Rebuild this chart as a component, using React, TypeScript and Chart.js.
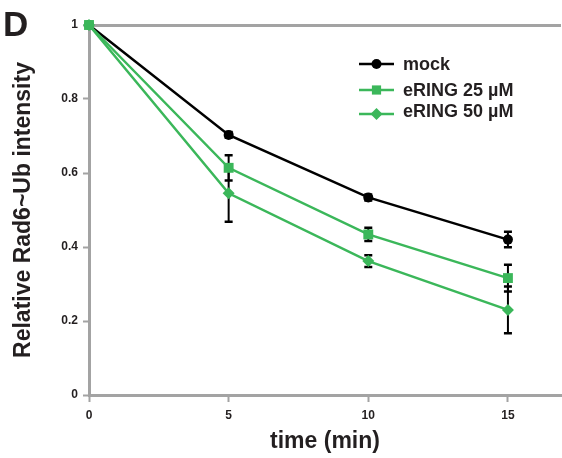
import React, { useEffect, useRef } from 'react';
import { Chart, registerables } from 'chart.js';

Chart.register(...registerables);

const timePoints = [0, 5, 10, 15];
const mockValues = [1, 0.703, 0.534, 0.42];
const mockErrors = [0, 0.008, 0.008, 0.021];
const ring25Values = [1, 0.614, 0.434, 0.316];
const ring25Errors = [0, 0.034, 0.018, 0.036];
const ring50Values = [1, 0.545, 0.362, 0.23];
const ring50Errors = [0, 0.077, 0.016, 0.063];
const seriesLabels = ['mock', 'eRING 25 µM', 'eRING 50 µM'];
const xTickValues = [0, 5, 10, 15];
const yTickValues = [0, 0.2, 0.4, 0.6, 0.8, 1];

const FONT = '"Liberation Sans", Arial, Helvetica, sans-serif';
const TEXT = '#231f20';
const AXIS = '#a3a3a3';
const GREEN = '#3bb75a';

function drawMarker(ctx: CanvasRenderingContext2D, style: string, x: number, y: number, r: number) {
  ctx.beginPath();
  if (style === 'circle') {
    ctx.arc(x, y, r, 0, Math.PI * 2);
  } else if (style === 'rect') {
    const s = r * Math.SQRT1_2;
    ctx.rect(x - s, y - s, 2 * s, 2 * s);
  } else {
    ctx.moveTo(x, y - r);
    ctx.lineTo(x + r, y);
    ctx.lineTo(x, y + r);
    ctx.lineTo(x - r, y);
    ctx.closePath();
  }
  ctx.fill();
}

const errorBarPlugin = {
  id: 'errorBars',
  beforeDatasetsDraw(chart: any) {
    const { ctx, scales } = chart;
    const xs = scales.x;
    const ys = scales.y;
    ctx.save();
    ctx.strokeStyle = '#000';
    chart.data.datasets.forEach((ds: any) => {
      ds.data.forEach((p: any, i: number) => {
        const e = ds.errors[i];
        if (!e) return;
        const px = xs.getPixelForValue(p.x);
        const top = ys.getPixelForValue(p.y + e);
        const bot = ys.getPixelForValue(p.y - e);
        ctx.lineWidth = 2;
        ctx.beginPath();
        ctx.moveTo(px, top);
        ctx.lineTo(px, bot);
        ctx.stroke();
        ctx.lineWidth = 2.5;
        ctx.beginPath();
        ctx.moveTo(px - 4, top);
        ctx.lineTo(px + 4, top);
        ctx.moveTo(px - 4, bot);
        ctx.lineTo(px + 4, bot);
        ctx.stroke();
      });
    });
    ctx.restore();
  },
};

const legendAndLabelPlugin = {
  id: 'customLegend',
  afterDraw(chart: any) {
    const { ctx } = chart;
    ctx.save();
    ctx.fillStyle = TEXT;
    ctx.font = `bold 35px ${FONT}`;
    ctx.textBaseline = 'alphabetic';
    ctx.textAlign = 'left';
    ctx.fillText('D', 3, 36);
    const markerY = [64, 90, 114];
    const baseY = [70, 96, 117];
    const x0 = 359;
    const x1 = 394;
    chart.data.datasets.forEach((ds: any, i: number) => {
      ctx.strokeStyle = ds.borderColor;
      ctx.fillStyle = ds.backgroundColor;
      ctx.lineWidth = 2.5;
      ctx.beginPath();
      ctx.moveTo(x0, markerY[i]);
      ctx.lineTo(x1, markerY[i]);
      ctx.stroke();
      drawMarker(ctx, ds.pointStyle, (x0 + x1) / 2, markerY[i], ds.pointStyle === 'rect' ? 6.5 : ds.pointRadius);
      ctx.fillStyle = TEXT;
      ctx.font = `bold 18px ${FONT}`;
      ctx.fillText(ds.label, 403, baseY[i]);
    });
    ctx.restore();
  },
};

export default function App() {
  const canvasRef = useRef<HTMLCanvasElement | null>(null);

  useEffect(() => {
    if (!canvasRef.current) return;
    const mk = (values: number[]) => timePoints.map((t, i) => ({ x: t, y: values[i] }));
    const chart = new Chart(canvasRef.current, {
      type: 'line',
      data: {
        datasets: [
          {
            label: seriesLabels[0],
            data: mk(mockValues),
            errors: mockErrors,
            borderColor: '#000',
            backgroundColor: '#000',
            pointStyle: 'circle',
            pointRadius: 5,
            borderWidth: 2.5,
            pointBorderWidth: 0,
            order: 3,
            clip: false,
          } as any,
          {
            label: seriesLabels[1],
            data: mk(ring25Values),
            errors: ring25Errors,
            borderColor: GREEN,
            backgroundColor: GREEN,
            pointStyle: 'rect',
            pointRadius: 7,
            borderWidth: 2.5,
            pointBorderWidth: 0,
            order: 1,
            clip: false,
          } as any,
          {
            label: seriesLabels[2],
            data: mk(ring50Values),
            errors: ring50Errors,
            borderColor: GREEN,
            backgroundColor: GREEN,
            pointStyle: 'rectRot',
            pointRadius: 6,
            borderWidth: 2.5,
            pointBorderWidth: 0,
            order: 2,
            clip: false,
          } as any,
        ],
      },
      options: {
        responsive: false,
        animation: false,
        devicePixelRatio: 1,
        layout: { autoPadding: false, padding: { top: 25, right: 1, bottom: 0, left: 0 } },
        plugins: {
          legend: { display: false },
          tooltip: { enabled: false },
        },
        scales: {
          x: {
            type: 'linear',
            min: 0,
            max: 16.9,
            afterBuildTicks: (s: any) => {
              s.ticks = xTickValues.map((v) => ({ value: v }));
            },
            afterFit: (s: any) => {
              s.height = 63;
              s.paddingLeft = 0;
              s.paddingRight = 0;
            },
            border: { display: true, color: AXIS, width: 3 },
            grid: {
              drawOnChartArea: false,
              drawTicks: true,
              tickLength: 7,
              tickColor: AXIS,
              tickWidth: 2,
            },
            ticks: {
              color: TEXT,
              font: { family: FONT, size: 12, weight: 'bold' },
              padding: 6,
              maxRotation: 0,
              callback: (v: any) => String(v),
            },
            title: {
              display: true,
              text: 'time (min)',
              color: TEXT,
              font: { family: FONT, size: 23, weight: 'bold' },
              padding: { top: 0, bottom: 3 },
            },
          },
          y: {
            type: 'linear',
            min: 0,
            max: 1,
            afterBuildTicks: (s: any) => {
              s.ticks = yTickValues.map((v) => ({ value: v }));
            },
            afterFit: (s: any) => {
              s.width = 89;
              s.paddingTop = 0;
              s.paddingBottom = 0;
            },
            border: { display: true, color: AXIS, width: 3 },
            grid: {
              drawOnChartArea: true,
              drawTicks: true,
              tickLength: 6,
              lineWidth: 3,
              color: (c: any) => (c.tick && c.tick.value === 1 ? AXIS : 'rgba(0,0,0,0)'),
              tickColor: AXIS,
              tickWidth: 2,
            },
            ticks: {
              color: TEXT,
              font: { family: FONT, size: 12, weight: 'bold' },
              padding: 5,
              callback: (v: any) => (v === 0 || v === 1 ? String(v) : Number(v).toFixed(1)),
            },
            title: {
              display: true,
              text: 'Relative Rad6~Ub intensity',
              color: TEXT,
              font: { family: FONT, size: 23, weight: 'bold' },
              padding: { top: 10, bottom: 0 },
            },
          },
        },
      } as any,
      plugins: [errorBarPlugin, legendAndLabelPlugin],
    });
    return () => chart.destroy();
  }, []);

  return (
    <div style={{ position: 'absolute', left: 0, top: 0, width: 562, height: 458, background: '#fff' }}>
      <canvas ref={canvasRef} width={562} height={458} style={{ width: 562, height: 458 }} />
    </div>
  );
}
